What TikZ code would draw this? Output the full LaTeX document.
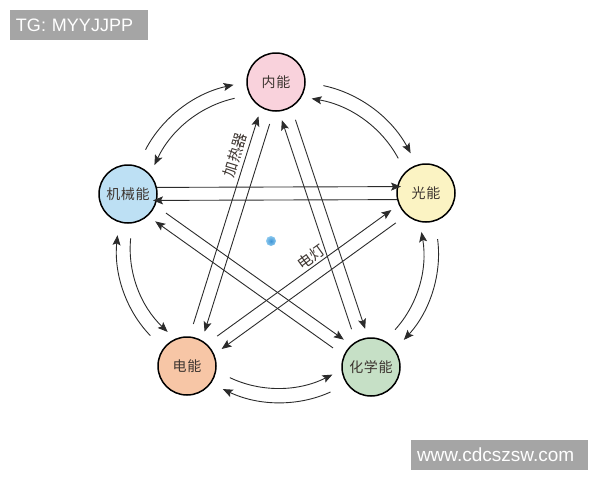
\documentclass[tikz,border=0pt]{standalone}
\usepackage{fontspec}
\usepackage{xcolor}
\usetikzlibrary{arrows.meta,calc}

\newfontfamily\cjk[LetterSpace=4]{Noto Sans CJK SC}
\newfontfamily\cjklabel{Noto Sans CJK SC}
\newfontfamily\wmfont{Liberation Sans}

\definecolor{neiC}{HTML}{F9D2DC}
\definecolor{jixieC}{HTML}{BDE0F4}
\definecolor{guangC}{HTML}{FBF3C3}
\definecolor{dianC}{HTML}{F7C6A6}
\definecolor{huaxueC}{HTML}{C6E0C6}
\definecolor{textC}{HTML}{3D3530}
\definecolor{lineC}{HTML}{2B2B2B}
\definecolor{wmC}{HTML}{A5A5A5}
\definecolor{dotC}{HTML}{8CC8EE}
\definecolor{dotCore}{HTML}{3E95D6}

\begin{document}
\begin{tikzpicture}[
    x=1pt, y=-1pt,
    energy/.style={circle, draw=black, line width=1.5pt, minimum size=58pt, inner sep=0pt,
      text=textC, font=\cjk\fontsize{14}{14}\selectfont},
    flow/.style={draw=lineC, line width=0.9pt, -{Stealth[length=10pt,width=8pt,inset=2pt]}},
    tag/.style={text=textC, font=\cjklabel\fontsize{15}{15}\selectfont, inner sep=0pt},
    wmark/.style={fill=wmC, text=white, inner xsep=6pt, minimum height=30pt, align=left}
  ]
  \useasboundingbox (0,0) rectangle (600,480);

  % Energy forms
  \node[energy, fill=neiC] (N) at (276,82) {内能};
  \node[energy, fill=jixieC] (J) at (128,194) {机械能};
  \node[energy, fill=guangC] (G) at (426,193) {光能};
  \node[energy, fill=dianC] (D) at (187,366) {电能};
  \node[energy, fill=huaxueC] (H) at (371,367) {化学能};

  % Ring: outer arcs clockwise, inner arcs back
  \foreach \a/\b/\t in {J/N/162, N/G/90, G/H/18, H/D/306, D/J/234}{
    \pgfmathtruncatemacro\p{mod(\t+270,360)}
    \pgfmathtruncatemacro\q{mod(\t+18,360)}
    \pgfmathtruncatemacro\r{mod(\t+44,360)}
    \pgfmathtruncatemacro\s{mod(\t+240,360)}
    \draw[flow, shorten <=18pt, shorten >=13pt] (\a.\p) to[bend left=25] (\b.\q);
    \draw[flow, shorten <=15pt, shorten >=10pt] (\b.\r) to[bend right=26] (\a.\s);
  }

  % Star: two lanes between every non-adjacent pair
  \foreach \a/\b/\l in {J/G/29, G/J/29, J/H/42, H/J/42, N/D/42, D/N/42, N/H/42, H/N/42, G/D/42, D/G/42}
    \draw[flow, shorten <=\l pt, shorten >=\l pt-4pt]
      ($(\a)!6.5pt!90:(\b)$) -- ($(\b)!6.5pt!-90:(\a)$);

  % Labels on the star
  \node[tag, rotate=72.6] (heater) at (235,155) {加热器};
  \node[tag, rotate=36] (lamp) at (311,257) {电灯};

  % Centre dot
  \node[circle, inner color=dotCore, outer color=dotC, minimum size=10pt, inner sep=0pt] (dot) at (271,241) {};

  % Watermarks
  \node[wmark, text width=126pt, font=\wmfont\fontsize{18}{18}\selectfont] (tg) at (79,25) {TG: MYYJJPP};
  \node[wmark, text width=165pt, font=\wmfont\fontsize{19}{19}\selectfont] (site) at (499.5,455) {www.cdcszsw.com};
\end{tikzpicture}
\end{document}
